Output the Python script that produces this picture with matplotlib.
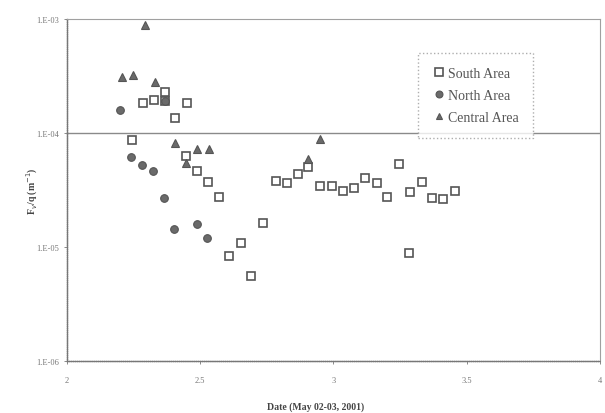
import numpy as np
import matplotlib.pyplot as plt

# South Area (open squares)
south_x = [2.243, 2.286, 2.328, 2.368, 2.368, 2.405, 2.449, 2.445, 2.487, 2.530,
           2.571, 2.609, 2.653, 2.689, 2.737, 2.783, 2.824, 2.866, 2.905, 2.949,
           2.993, 3.035, 3.077, 3.118, 3.162, 3.202, 3.247, 3.284, 3.287, 3.331,
           3.371, 3.412, 3.456]
south_y = [8.6e-5, 1.82e-4, 1.96e-4, 2.28e-4, 1.92e-4, 1.35e-4, 1.82e-4, 6.32e-5, 4.61e-5, 3.70e-5,
           2.73e-5, 8.28e-6, 1.08e-5, 5.6e-6, 1.62e-5, 3.82e-5, 3.62e-5, 4.37e-5, 5.0e-5, 3.41e-5,
           3.41e-5, 3.08e-5, 3.27e-5, 4.01e-5, 3.64e-5, 2.77e-5, 5.35e-5, 8.86e-6, 3.02e-5, 3.74e-5,
           2.69e-5, 2.64e-5, 3.12e-5]

# North Area (filled circles)
north_x = [2.199, 2.240, 2.283, 2.324, 2.364, 2.368, 2.402, 2.487, 2.526]
north_y = [1.59e-4, 6.12e-5, 5.24e-5, 4.67e-5, 2.67e-5, 1.9e-4, 1.44e-5, 1.59e-5, 1.19e-5]

# Central Area (triangles)
central_x = [2.205, 2.249, 2.293, 2.330, 2.405, 2.445, 2.489, 2.533, 2.905, 2.949]
central_y = [3.08e-4, 3.25e-4, 8.85e-4, 2.79e-4, 8.17e-5, 5.46e-5, 7.24e-5, 7.24e-5, 5.92e-5, 8.86e-5]

xticks = [2, 2.5, 3, 3.5, 4]
xticklabels = ['2', '2.5', '3', '3.5', '4']
yticks = [1e-6, 1e-5, 1e-4, 1e-3]
yticklabels = ['1.E-06', '1.E-05', '1.E-04', '1.E-03']

plt.rcParams['font.family'] = ['Liberation Serif', 'DejaVu Serif']

fig = plt.figure(figsize=(6.05, 4.14), dpi=100)
ax = fig.add_axes([0.1107, 0.1256, 0.881, 0.826])

ax.axhline(1e-4, color='#8a8a8a', lw=1.0, zorder=1)

ax.plot(south_x, south_y, 's', ms=6, mfc='white', mec='#555555', mew=1.2,
        ls='none', label='South Area', zorder=3)
ax.plot(north_x, north_y, 'o', ms=5.5, mfc='#6a6a6a', mec='#555555', mew=0.8,
        ls='none', label='North Area', zorder=4)
ax.plot(central_x, central_y, '^', ms=5.5, mfc='#6a6a6a', mec='#555555', mew=0.8,
        ls='none', label='Central Area', zorder=5)

ax.set_yscale('log')
ax.set_xlim(2, 4)
ax.set_ylim(1e-6, 1e-3)
ax.set_xticks(xticks)
ax.set_xticklabels(xticklabels)
ax.set_yticks(yticks)
ax.set_yticklabels(yticklabels)
ax.yaxis.set_minor_locator(plt.NullLocator())
ax.tick_params(axis='both', labelsize=6, colors='#777777', length=2, width=0.6)
ax.tick_params(axis='x', pad=9)

for side in ['left', 'bottom']:
    ax.spines[side].set_color('#777777')
    ax.spines[side].set_linestyle((0, (1, 0.5)))
    ax.spines[side].set_linewidth(1.0)
for side in ['top', 'right']:
    ax.spines[side].set_color('#a0a0a0')
    ax.spines[side].set_linewidth(0.8)

ax.set_xlabel('Date (May 02-03, 2001)', fontsize=7, color='#444444', fontweight='bold')
ax.xaxis.set_label_coords(0.467, -0.118)
ax.set_ylabel('F$_v$/q (m$^{-1}$)', fontsize=7, color='#444444', fontweight='bold')
ax.yaxis.set_label_coords(-0.05, 0.5)

leg = ax.legend(loc='upper left', bbox_to_anchor=(0.659, 0.900), fontsize=10,
                frameon=True, fancybox=False, handletextpad=0.15, handlelength=1.0,
                borderpad=1.0, labelspacing=0.65, markerscale=0.9, borderaxespad=0)
leg.get_frame().set_edgecolor('#9a9a9a')
leg.get_frame().set_linestyle(':')
leg.get_frame().set_linewidth(1.0)
for t in leg.get_texts():
    t.set_color('#555555')

fig.savefig('out.png', dpi=100)
